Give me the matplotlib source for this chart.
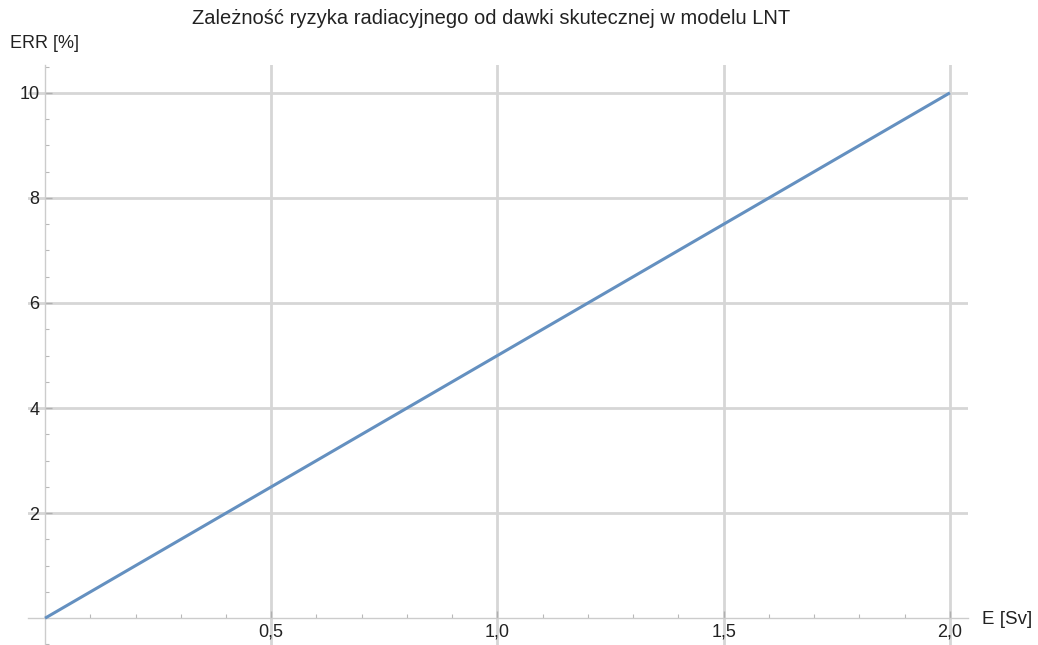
import matplotlib.pyplot as plt
from matplotlib.ticker import MultipleLocator, FixedLocator

# LNT model data
dose = [0.0, 2.0]      # E [Sv]
risk = [0.0, 10.0]     # ERR [%]
x_ticks = [0.5, 1.0, 1.5, 2.0]
x_labels = ['0,5', '1,0', '1,5', '2,0']
y_ticks = [2, 4, 6, 8, 10]
y_labels = ['2', '4', '6', '8', '10']

plt.rcParams['font.family'] = ['Liberation Sans', 'DejaVu Sans']

fig = plt.figure(figsize=(10.38, 6.45), dpi=100)
ax = fig.add_axes([28 / 1038, 0, 940 / 1038, 580 / 645])

ax.plot(dose, risk, color='#6490c0', lw=2.2, solid_capstyle='butt', zorder=3)

ax.set_xlim(-0.0376, 2.04)
ax.set_ylim(-0.51, 10.53)

# axes through the origin, like Mathematica
for side in ['top', 'right']:
    ax.spines[side].set_visible(False)
ax.spines['left'].set_position(('data', 0))
ax.spines['bottom'].set_position(('data', 0))
for side in ['left', 'bottom']:
    ax.spines[side].set_color('#cccccc')
    ax.spines[side].set_linewidth(1.0)

ax.xaxis.set_major_locator(FixedLocator(x_ticks))
ax.set_xticklabels(x_labels)
ax.yaxis.set_major_locator(FixedLocator(y_ticks))
ax.set_yticklabels(y_labels)
ax.xaxis.set_minor_locator(MultipleLocator(0.1))
ax.yaxis.set_minor_locator(MultipleLocator(0.5))

ax.tick_params(which='major', direction='in', length=5, width=1, color='#b0b0b0',
               labelsize=13, labelcolor='#222222', pad=4)
ax.tick_params(which='minor', direction='in', length=3, width=0.8, color='#b8b8b8')

ax.grid(True, which='major', color='#d6d6d6', lw=2.0, zorder=0)

fig.text(491 / 1038, 1 - 18 / 645,
         'Zależność ryzyka radiacyjnego od dawki skutecznej w modelu LNT',
         fontsize=14.5, color='#222222', ha='center', va='center')
fig.text(10 / 1038, 1 - 43 / 645, 'ERR [%]', fontsize=13, color='#222222', va='center')
fig.text(982 / 1038, 1 - 620 / 645, 'E [Sv]', fontsize=13.5, color='#222222', va='center')

fig.savefig('out.png', dpi=100)
